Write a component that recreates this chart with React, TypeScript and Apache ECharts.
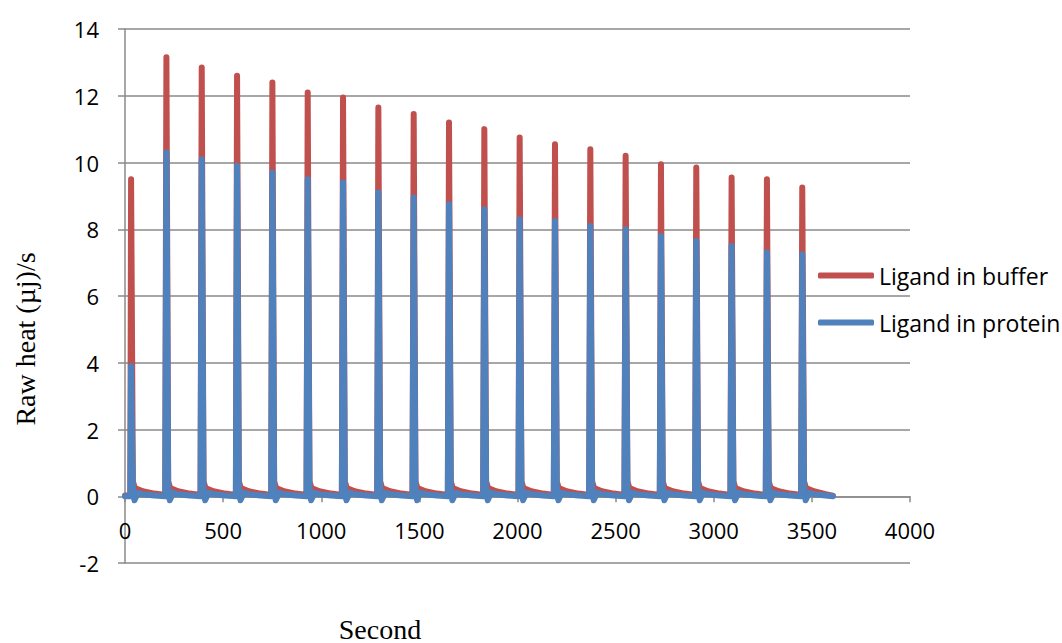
import React, { useEffect, useRef } from "react";
import * as echarts from "echarts";

// Time (s) and raw heat (µj/s)
const bufferSeries: [number, number][] = [
  [0, 0.02],
  [27, 0.03], [31, 9.5], [40, 0.45], [50, 0.25], [90, 0.15], [150, 0.08], [205, 0.04],
  [207, 0.03], [211, 13.15], [220, 0.45], [230, 0.25], [270, 0.15], [330, 0.08], [385, 0.04],
  [387, 0.03], [391, 12.85], [400, 0.45], [410, 0.25], [450, 0.15], [510, 0.08], [565, 0.04],
  [567, 0.03], [571, 12.6], [580, 0.45], [590, 0.25], [630, 0.15], [690, 0.08], [745, 0.04],
  [747, 0.03], [751, 12.4], [760, 0.45], [770, 0.25], [810, 0.15], [870, 0.08], [925, 0.04],
  [927, 0.03], [931, 12.1], [940, 0.45], [950, 0.25], [990, 0.15], [1050, 0.08], [1105, 0.04],
  [1107, 0.03], [1111, 11.95], [1120, 0.45], [1130, 0.25], [1170, 0.15], [1230, 0.08], [1285, 0.04],
  [1287, 0.03], [1291, 11.65], [1300, 0.45], [1310, 0.25], [1350, 0.15], [1410, 0.08], [1465, 0.04],
  [1467, 0.03], [1471, 11.45], [1480, 0.45], [1490, 0.25], [1530, 0.15], [1590, 0.08], [1645, 0.04],
  [1647, 0.03], [1651, 11.2], [1660, 0.45], [1670, 0.25], [1710, 0.15], [1770, 0.08], [1825, 0.04],
  [1827, 0.03], [1831, 11.0], [1840, 0.45], [1850, 0.25], [1890, 0.15], [1950, 0.08], [2005, 0.04],
  [2007, 0.03], [2011, 10.75], [2020, 0.45], [2030, 0.25], [2070, 0.15], [2130, 0.08], [2185, 0.04],
  [2187, 0.03], [2191, 10.55], [2200, 0.45], [2210, 0.25], [2250, 0.15], [2310, 0.08], [2365, 0.04],
  [2367, 0.03], [2371, 10.4], [2380, 0.45], [2390, 0.25], [2430, 0.15], [2490, 0.08], [2545, 0.04],
  [2547, 0.03], [2551, 10.2], [2560, 0.45], [2570, 0.25], [2610, 0.15], [2670, 0.08], [2725, 0.04],
  [2727, 0.03], [2731, 9.95], [2740, 0.45], [2750, 0.25], [2790, 0.15], [2850, 0.08], [2905, 0.04],
  [2907, 0.03], [2911, 9.85], [2920, 0.45], [2930, 0.25], [2970, 0.15], [3030, 0.08], [3085, 0.04],
  [3087, 0.03], [3091, 9.55], [3100, 0.45], [3110, 0.25], [3150, 0.15], [3210, 0.08], [3265, 0.04],
  [3267, 0.03], [3271, 9.5], [3280, 0.45], [3290, 0.25], [3330, 0.15], [3390, 0.08], [3445, 0.04],
  [3447, 0.03], [3451, 9.25], [3460, 0.45], [3470, 0.25], [3510, 0.15], [3570, 0.06], [3607, 0.02],
];

const proteinSeries: [number, number][] = [
  [0, 0.0],
  [27, 0.0], [31, 3.9], [40, 0.3], [48, -0.12], [65, 0.1], [90, 0.06], [150, 0.02], [205, 0.0],
  [207, 0.0], [211, 10.3], [220, 0.3], [228, -0.12], [245, 0.1], [270, 0.06], [330, 0.02], [385, 0.0],
  [387, 0.0], [391, 10.1], [400, 0.3], [408, -0.12], [425, 0.1], [450, 0.06], [510, 0.02], [565, 0.0],
  [567, 0.0], [571, 9.9], [580, 0.3], [588, -0.12], [605, 0.1], [630, 0.06], [690, 0.02], [745, 0.0],
  [747, 0.0], [751, 9.7], [760, 0.3], [768, -0.12], [785, 0.1], [810, 0.06], [870, 0.02], [925, 0.0],
  [927, 0.0], [931, 9.5], [940, 0.3], [948, -0.12], [965, 0.1], [990, 0.06], [1050, 0.02], [1105, 0.0],
  [1107, 0.0], [1111, 9.4], [1120, 0.3], [1128, -0.12], [1145, 0.1], [1170, 0.06], [1230, 0.02], [1285, 0.0],
  [1287, 0.0], [1291, 9.1], [1300, 0.3], [1308, -0.12], [1325, 0.1], [1350, 0.06], [1410, 0.02], [1465, 0.0],
  [1467, 0.0], [1471, 8.95], [1480, 0.3], [1488, -0.12], [1505, 0.1], [1530, 0.06], [1590, 0.02], [1645, 0.0],
  [1647, 0.0], [1651, 8.75], [1660, 0.3], [1668, -0.12], [1685, 0.1], [1710, 0.06], [1770, 0.02], [1825, 0.0],
  [1827, 0.0], [1831, 8.6], [1840, 0.3], [1848, -0.12], [1865, 0.1], [1890, 0.06], [1950, 0.02], [2005, 0.0],
  [2007, 0.0], [2011, 8.3], [2020, 0.3], [2028, -0.12], [2045, 0.1], [2070, 0.06], [2130, 0.02], [2185, 0.0],
  [2187, 0.0], [2191, 8.25], [2200, 0.3], [2208, -0.12], [2225, 0.1], [2250, 0.06], [2310, 0.02], [2365, 0.0],
  [2367, 0.0], [2371, 8.1], [2380, 0.3], [2388, -0.12], [2405, 0.1], [2430, 0.06], [2490, 0.02], [2545, 0.0],
  [2547, 0.0], [2551, 8.0], [2560, 0.3], [2568, -0.12], [2585, 0.1], [2610, 0.06], [2670, 0.02], [2725, 0.0],
  [2727, 0.0], [2731, 7.8], [2740, 0.3], [2748, -0.12], [2765, 0.1], [2790, 0.06], [2850, 0.02], [2905, 0.0],
  [2907, 0.0], [2911, 7.65], [2920, 0.3], [2928, -0.12], [2945, 0.1], [2970, 0.06], [3030, 0.02], [3085, 0.0],
  [3087, 0.0], [3091, 7.5], [3100, 0.3], [3108, -0.12], [3125, 0.1], [3150, 0.06], [3210, 0.02], [3265, 0.0],
  [3267, 0.0], [3271, 7.3], [3280, 0.3], [3288, -0.12], [3305, 0.1], [3330, 0.06], [3390, 0.02], [3445, 0.0],
  [3447, 0.0], [3451, 7.25], [3460, 0.3], [3468, -0.12], [3485, 0.1], [3510, 0.06], [3570, 0.02], [3607, 0.0],
];

const seriesNames = ["Ligand in buffer", "Ligand in protein"];
const xTitle = "Second";
const yTitle = "Raw heat (µj)/s";

const GRID_COLOR = "#8a8a8a";
const TICK_FONT = "'Open Sans', Lato, sans-serif";
const TITLE_FONT = "'Liberation Serif', 'DejaVu Serif', serif";

export default function App() {
  const ref = useRef<HTMLDivElement>(null);

  useEffect(() => {
    if (!ref.current) return;
    const chart = echarts.init(ref.current, undefined, { renderer: "svg" });
    chart.setOption({
      animation: false,
      backgroundColor: "#ffffff",
      grid: {
        left: 125,
        right: 152,
        top: 29,
        bottom: 80,
        containLabel: false,
        outerBoundsMode: "none",
      },
      legend: {
        orient: "vertical",
        left: 813,
        top: 259,
        itemGap: 24,
        itemWidth: 56,
        itemHeight: 6,
        icon: "roundRect",
        textStyle: { fontFamily: TICK_FONT, fontSize: 23, color: "#000" },
        data: seriesNames,
      },
      graphic: [
        {
          type: "text",
          x: 380,
          y: 629,
          style: {
            text: xTitle,
            fontFamily: TITLE_FONT,
            fontSize: 28,
            fill: "#000",
            textAlign: "center",
            textVerticalAlign: "middle",
          },
        },
        {
          type: "text",
          x: 25,
          y: 339,
          rotation: Math.PI / 2,
          style: {
            text: yTitle,
            fontFamily: TITLE_FONT,
            fontSize: 28,
            fill: "#000",
            textAlign: "center",
            textVerticalAlign: "middle",
          },
        },
      ],
      xAxis: {
        type: "value",
        min: 0,
        max: 4000,
        interval: 500,
        position: "bottom",
        offset: -66.75,
        axisLine: { onZero: false, lineStyle: { color: GRID_COLOR, width: 1.5 } },
        axisTick: { show: true, length: 6, lineStyle: { color: GRID_COLOR, width: 1.5 } },
        axisLabel: {
          margin: 23,
          fontFamily: TICK_FONT,
          fontSize: 22,
          color: "#000",
          formatter: (v: number) => String(v),
        },
        splitLine: { show: false },
      },
      yAxis: {
        type: "value",
        min: -2,
        max: 14,
        interval: 2,
        axisLine: { show: true, lineStyle: { color: GRID_COLOR, width: 1.5 } },
        axisTick: { show: true, length: 7, lineStyle: { color: GRID_COLOR, width: 1.5 } },
        axisLabel: {
          margin: 26,
          fontFamily: TICK_FONT,
          fontSize: 22,
          color: "#000",
          formatter: (v: number) => String(v),
        },
        splitLine: { show: true, lineStyle: { color: GRID_COLOR, width: 1.5 } },
      },
      series: [
        {
          name: seriesNames[0],
          type: "line",
          data: bufferSeries,
          showSymbol: false,
          symbol: "none",
          color: "#C0504D",
          lineStyle: { color: "#C0504D", width: 6, cap: "round", join: "round" },
        },
        {
          name: seriesNames[1],
          type: "line",
          data: proteinSeries,
          showSymbol: false,
          symbol: "none",
          color: "#4F81BD",
          lineStyle: { color: "#4F81BD", width: 6, cap: "round", join: "round" },
        },
      ],
    });
    return () => chart.dispose();
  }, []);

  return (
    <div
      ref={ref}
      style={{ position: "fixed", left: 0, top: 0, width: 1062, height: 643, background: "#fff" }}
    />
  );
}
